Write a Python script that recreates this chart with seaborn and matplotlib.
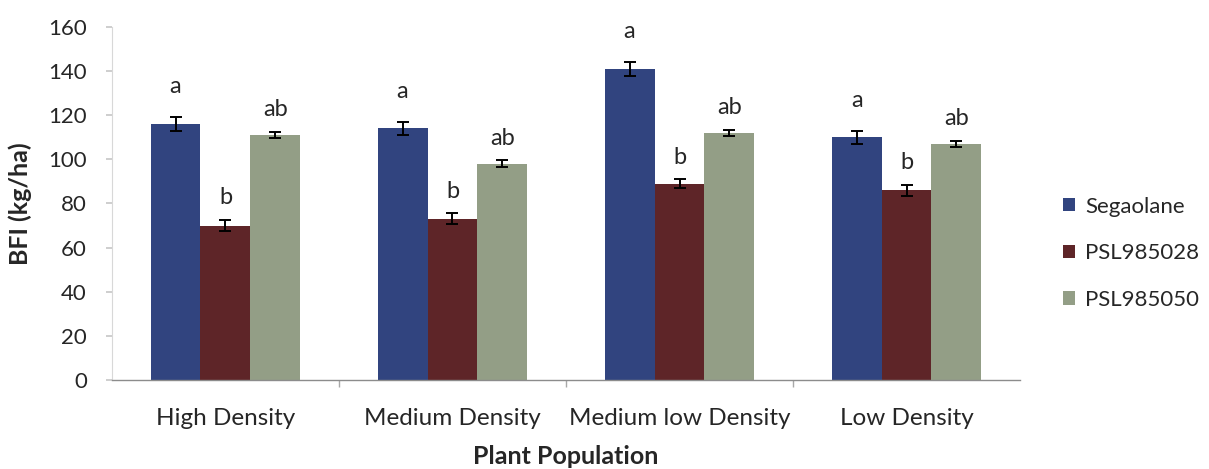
import matplotlib
matplotlib.use("Agg")
import matplotlib.pyplot as plt
import seaborn as sns
import pandas as pd
import numpy as np

# Plant population treatments and cultivars
categories = ["High Density", "Medium Density", "Medium low Density", "Low Density"]
cultivars = ["Segaolane", "PSL985028", "PSL985050"]

# Mean BFI (kg/ha) per cultivar across plant populations
segaolane = [116, 114, 141, 110]
psl985028 = [70, 73, 89, 86]
psl985050 = [111, 98, 112, 107]

# Standard errors
segaolane_err = [3, 3, 3, 3]
psl985028_err = [2.5, 2.5, 2, 2.5]
psl985050_err = [1.5, 1.5, 1.5, 1.5]

# Mean separation letters
segaolane_sig = ["a", "a", "a", "a"]
psl985028_sig = ["b", "b", "b", "b"]
psl985050_sig = ["ab", "ab", "ab", "ab"]

values = [segaolane, psl985028, psl985050]
errors = [segaolane_err, psl985028_err, psl985050_err]
letters = [segaolane_sig, psl985028_sig, psl985050_sig]

df = pd.DataFrame({
    "Plant Population": np.tile(categories, len(cultivars)),
    "Cultivar": np.repeat(cultivars, len(categories)),
    "BFI": np.concatenate(values),
})

sns.set_theme(style="white")
plt.rcParams["font.family"] = ["Lato", "DejaVu Sans"]

colors = ["#31447f", "#5e2528", "#939e86"]
text_color = "#262626"

fig = plt.figure(figsize=(12.09, 4.69), dpi=100)
ax = fig.add_axes([0.0926, 0.1898, 0.7511, 0.7526])

sns.barplot(data=df, x="Plant Population", y="BFI", hue="Cultivar",
            hue_order=cultivars, order=categories, palette=colors,
            width=0.66, errorbar=None, saturation=1, linewidth=0, ax=ax)

# Error bars and significance letters on top of each bar
bar_containers = list(ax.containers)
letter_offsets = [22, 16, 16]
for k, cont in enumerate(bar_containers):
    for i, bar in enumerate(cont.patches):
        xc = bar.get_x() + bar.get_width() / 2
        h = bar.get_height()
        ax.errorbar(xc, h, yerr=errors[k][i], fmt="none", ecolor="black",
                    elinewidth=1.4, capsize=4.5, capthick=1.4)
        ax.annotate(letters[k][i], (xc, h + errors[k][i]), xytext=(0, letter_offsets[k]),
                    textcoords="offset points", ha="center", va="center",
                    fontsize=17, color=text_color)

ax.set_ylim(0, 160)
ax.set_yticks(np.arange(0, 161, 20))
ax.set_xlim(-0.5, 3.5)

for s in ["top", "right"]:
    ax.spines[s].set_visible(False)
ax.spines["left"].set_color("#d8d8d8")
ax.spines["left"].set_linewidth(0.8)
ax.spines["bottom"].set_color("#8c8c8c")
ax.spines["bottom"].set_linewidth(1.0)

ax.tick_params(axis="y", length=4, color="#c8c8c8", pad=14, labelsize=16, labelcolor=text_color, left=True)
ax.tick_params(axis="x", length=0, pad=20, labelsize=17.5, labelcolor=text_color)
ax.set_xticks([0.5, 1.5, 2.5], minor=True)
ax.tick_params(axis="x", which="minor", length=5, color="#a8a8a8", bottom=True, direction="out")

ax.set_xlabel("Plant Population", fontsize=18, fontweight="bold", color=text_color, labelpad=12)
ax.set_ylabel("BFI (kg/ha)", fontsize=18, fontweight="bold", color=text_color, labelpad=12)

leg = ax.legend(title=None, loc="center left", bbox_to_anchor=(0.872, 0.46),
                bbox_transform=fig.transFigure, frameon=False, fontsize=16,
                handlelength=0.55, handleheight=0.55, handletextpad=0.45,
                labelspacing=1.2, borderaxespad=0)
for t in leg.get_texts():
    t.set_color(text_color)

fig.savefig("out.png", dpi=100, facecolor="white")
